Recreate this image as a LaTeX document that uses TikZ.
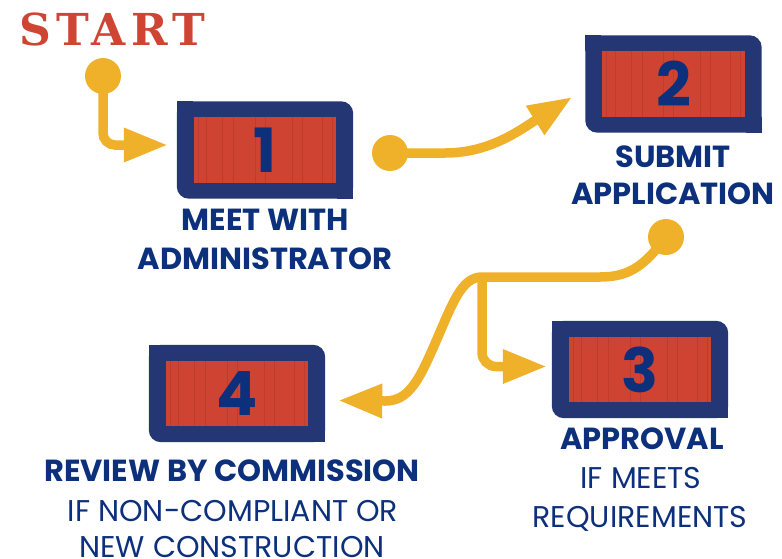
\documentclass[tikz,border=0pt]{standalone}
\usepackage{fontspec}
\setmainfont{Poppins}
\newfontfamily\slabfont{DejaVu Serif}
\usetikzlibrary{arrows.meta,calc,backgrounds}
\definecolor{boxnavy}{RGB}{36,54,115}
\definecolor{boxred}{RGB}{207,67,51}
\definecolor{txtnavy}{RGB}{12,48,124}
\definecolor{conny}{RGB}{240,177,42}
\definecolor{startred}{RGB}{207,69,52}
\tikzset{
 stepbox/.style={minimum width=176pt, minimum height=97pt, inner sep=0pt, text=txtnavy, font=\fontsize{61}{61}\selectfont\bfseries},
 dot/.style={circle, fill=conny, minimum size=36pt, inner sep=0pt},
 conn/.style={draw=conny, line width=9.5pt, -{Triangle[length=44pt,width=32pt]}},
 boldlab/.style={anchor=base, inner sep=0pt, text=txtnavy, font=\fontsize{30.5}{30.5}\selectfont\bfseries},
 lightlab/.style={anchor=base, inner sep=0pt, text=txtnavy, font=\fontsize{30}{30}\selectfont},
 texture/.style={line width=0.5pt, draw=boxred!70!black, opacity=0.3},
}
\newcommand\drawstepbox[1]{%
  \fill[boxnavy, rounded corners=12pt] (#1.north west) rectangle (#1.south east);
  \fill[boxnavy] (#1.north west) rectangle ++(16,16);
  \fill[boxnavy] (#1.south east) rectangle ++(-16,-16);
  \coordinate (#1-ia) at ([shift={(17,16)}]#1.north west);
  \coordinate (#1-ib) at ([shift={(-17,-16)}]#1.south east);
  \fill[boxred] (#1-ia) rectangle (#1-ib);
  \foreach \f in {0.03,0.09,0.2,0.28,0.43,0.5,0.69,0.76,0.9,0.97}
    \draw[texture] ($(#1-ia)!\f!(#1-ia -| #1-ib)$) -- ($(#1-ia |- #1-ib)!\f!(#1-ib)$);
}
\begin{document}
\begin{tikzpicture}[x=1pt,y=-1pt]
\useasboundingbox (0,0) rectangle (782,558);
\node[anchor=base west, inner sep=0pt, text=startred, font=\slabfont\bfseries\fontsize{44}{44}\selectfont\addfontfeature{LetterSpace=12}] (start) at (19,45) {START};

\node[stepbox] (b1) at (265,150) {1};
\node[stepbox] (b2) at (673.5,84) {2};
\node[stepbox] (b3) at (640,369.5) {3};
\node[stepbox] (b4) at (237,393.5) {4};
\begin{scope}[on background layer]
  \drawstepbox{b1}
  \drawstepbox{b2}
  \drawstepbox{b3}
  \drawstepbox{b4}
\end{scope}

\node[boldlab] (l1a) at (265,230) {MEET WITH};
\node[boldlab] (l1b) at (265,269) {ADMINISTRATOR};
\node[boldlab] (l2a) at (673,167) {SUBMIT};
\node[boldlab] (l2b) at (673,204) {APPLICATION};
\node[boldlab] (l3a) at (642,449) {APPROVAL};
\node[lightlab] (l3b) at (641,488) {IF MEETS};
\node[lightlab] (l3c) at (640,527) {REQUIREMENTS};
\node[boldlab] (l4a) at (232,481) {REVIEW BY COMMISSION};
\node[lightlab] (l4b) at (233,521) {IF NON-COMPLIANT OR};
\node[lightlab] (l4c) at (232,557.5) {NEW CONSTRUCTION};

\coordinate (t1) at ([shift={(-9,-5)}]b1.west);
\coordinate (t2) at ([shift={(-13,13)}]b2.west);
\coordinate (t3) at ([shift={(-5,-3)}]b3.west);
\coordinate (t4) at ([shift={(13,7)}]b4.east);
\coordinate (j) at (482,277);

\node[dot] (d1) at (103,76) {};
\node[dot] (d2) at (390,153) {};
\node[dot] (d3) at (666,237) {};

\draw[conn, rounded corners=12pt] (d1.center) |- (t1);
\draw[conn] (d2.center) -- (445,153) .. controls (490,153) and (520,130) .. (t2);
\draw[conn] (d3.center) .. controls (645,265) and (630,277) .. (600,277) -- (j) .. controls (462,277) and (453,302) .. (437,339) .. controls (420,378) and (410,401) .. (385,401) -- (t4);
\draw[conn, rounded corners=14pt] (j) |- (t3);
\end{tikzpicture}
\end{document}
